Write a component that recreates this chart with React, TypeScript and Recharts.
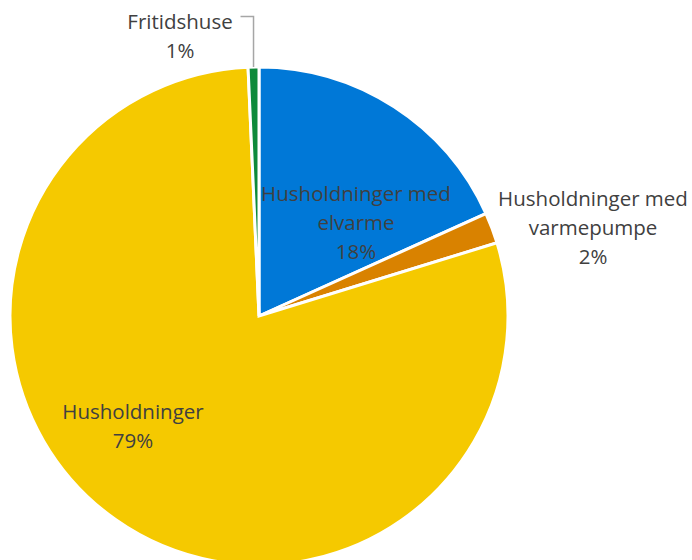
import { PieChart, Pie, Cell } from 'recharts';

// Andel fordelt på kundegrupper (%)
const categories = ['Husholdninger med elvarme', 'Husholdninger med varmepumpe', 'Husholdninger', 'Fritidshuse'];
const shares = [18.25, 2.0, 79.05, 0.7];
const labelLines = [['Husholdninger med', 'elvarme'], ['Husholdninger med', 'varmepumpe'], ['Husholdninger'], ['Fritidshuse']];
const percentLabels = ['18%', '2%', '79%', '1%'];

const colors = ['#0078D7', '#D98200', '#F5C900', '#0E8A3A'];

const data = categories.map((name, i) => ({ name, value: shares[i] }));

// label anchor offsets from the pie center (centre of text block)
const labelOffsets = [
  { dx: 97, dy: -94 },
  { dx: 334, dy: -89 },
  { dx: -126, dy: 109 },
  { dx: -79, dy: -281 },
];

const LINE_H = 29;

function renderLabel(props: any) {
  const { cx, cy, index, midAngle, outerRadius } = props;
  const lines = [...labelLines[index], percentLabels[index]];
  const off = labelOffsets[index];
  const x = cx + off.dx;
  const yCenter = cy + off.dy;
  const y0 = yCenter - ((lines.length - 1) * LINE_H) / 2;
  const rad = (Math.PI / 180) * midAngle;
  let leader = null;
  if (index === 3) {
    const sx = cx + outerRadius * Math.cos(rad);
    const sy = cy - outerRadius * Math.sin(rad);
    leader = (
      <polyline
        points={`${sx},${sy} ${sx},${y0 - 4} ${sx - 13},${y0 - 4}`}
        fill="none"
        stroke="#A6A6A6"
        strokeWidth={1.5}
      />
    );
  }
  return (
    <g key={`lbl-${index}`}>
      {leader}
      <text
        x={x}
        y={y0}
        textAnchor="middle"
        dominantBaseline="central"
        fill="#404040"
        style={{ fontFamily: '"Open Sans", sans-serif', fontSize: 20.5 }}
      >
        {lines.map((l, i) => (
          <tspan key={i} x={x} dy={i === 0 ? 0 : LINE_H}>
            {l}
          </tspan>
        ))}
      </text>
    </g>
  );
}

export default function App() {
  return (
    <div style={{ position: 'absolute', left: 0, top: 0, width: 692, height: 560, background: '#fff' }}>
      <PieChart width={692} height={560} margin={{ top: 0, right: 0, bottom: 0, left: 0 }}>
        <Pie
          data={data}
          dataKey="value"
          nameKey="name"
          cx={259}
          cy={316}
          outerRadius={249}
          startAngle={90}
          endAngle={-270}
          stroke="#FFFFFF"
          strokeWidth={3}
          label={renderLabel}
          labelLine={false}
          isAnimationActive={false}
        >
          {data.map((d, i) => (
            <Cell key={d.name} fill={colors[i]} />
          ))}
        </Pie>
      </PieChart>
    </div>
  );
}
